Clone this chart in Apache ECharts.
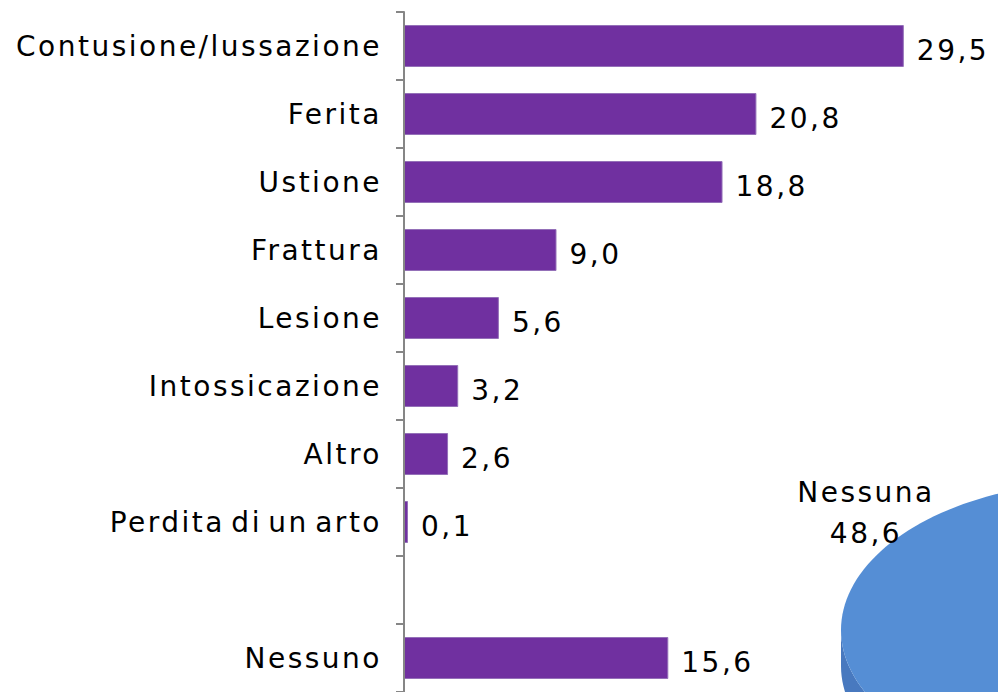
<!DOCTYPE html>
<html>
<head>
<meta charset="utf-8">
<script src="https://cdn.jsdelivr.net/npm/echarts@6/dist/echarts.min.js"></script>
<style>
  html, body { margin: 0; padding: 0; background: #fff; }
  #main { width: 998px; height: 692px; }
  /* spaziatura larga come nell'originale */
  #main svg text { letter-spacing: 2.5px; word-spacing: -5px; }
</style>
</head>
<body>
<div id="main"></div>
<script>
// dati barre (dall'alto verso il basso)
var categorie = ['Contusione/lussazione', 'Ferita', 'Ustione', 'Frattura', 'Lesione',
                 'Intossicazione', 'Altro', 'Perdita di un arto', '', 'Nessuno'];
var valori = [29.5, 20.8, 18.8, 9.0, 5.6, 3.2, 2.6, 0.1, null, 15.6];

// dati torta (solo la fetta visibile)
var torta_nomi = ['Nessuna'];
var torta_valori = [48.6];
var torta_totale = 100;

var font = '28px "DejaVu Sans"';
var fmt = function (v) { return v.toFixed(1).replace('.', ','); };

var myChart = echarts.init(document.getElementById('main'), null, {renderer: 'svg'});

// torta 3D schiacciata, in gran parte fuori dall'area
var cx = 1104, cy = 630, ra = 263, rb = 149, depth = 36;
function punto(deg, dy) {
    var t = deg * Math.PI / 180;
    return [cx + ra * Math.cos(t), cy - rb * Math.sin(t) + (dy || 0)];
}
function arco(a1, a2, dy) {
    var pts = [];
    var n = Math.max(2, Math.ceil(Math.abs(a2 - a1) / 2));
    for (var i = 0; i <= n; i++) {
        pts.push(punto(a1 + (a2 - a1) * i / n, dy));
    }
    return pts;
}
var startAngle = 180 - torta_valori[0] / torta_totale * 360 / 2;

function renderTorta(params, api) {
    var i = params.dataIndex;
    var prima = 0;
    for (var k = 0; k < i; k++) prima += torta_valori[k];
    var a1 = startAngle + prima / torta_totale * 360;
    var a2 = a1 + api.value(0) / torta_totale * 360;
    var children = [];
    // parete laterale (solo metà inferiore)
    var w1 = Math.max(a1, 180), w2 = Math.min(a2, 360);
    if (w2 > w1) {
        var sopra = arco(w1, w2, 0);
        var sotto = arco(w2, w1, depth);
        children.push({type: 'polygon', shape: {points: sopra.concat(sotto)},
            style: {fill: '#4879bf'}});
    }
    children.push({type: 'polygon', shape: {points: [[cx, cy]].concat(arco(a1, a2, 0))},
        style: {fill: '#558ed5'}});
    children.push({type: 'text', x: 866, y: 472,
        style: {text: torta_nomi[i] + '\n' + fmt(api.value(0)), font: font, fill: '#000',
                 align: 'center', verticalAlign: 'top', lineHeight: 41}});
    return {type: 'group', children: children};
}

myChart.setOption({
    animation: false,
    grid: {left: 404, right: 1, top: 12, bottom: 0},
    xAxis: {type: 'value', min: 0, max: 35, show: false},
    yAxis: {
        type: 'category',
        inverse: true,
        data: categorie,
        z: 5,
        axisLine: {show: true, lineStyle: {color: '#868686', width: 2}},
        axisTick: {show: true, length: 8, lineStyle: {color: '#868686', width: 2}},
        axisLabel: {margin: 22, color: '#000', fontSize: 28, fontFamily: 'DejaVu Sans'}
    },
    series: [{
        type: 'bar',
        data: valori,
        barWidth: 42,
        barMinHeight: 4,
        itemStyle: {color: '#7030a0', borderColor: '#9470b8', borderWidth: 1},
        label: {
            show: true,
            position: 'right',
            distance: 13,
            offset: [0, 4],
            color: '#000',
            fontSize: 28,
            fontFamily: 'DejaVu Sans',
            formatter: function (p) { return fmt(p.value); }
        }
    }, {
        type: 'custom',
        coordinateSystem: 'none',
        data: torta_valori.map(function (v) { return [v]; }),
        renderItem: renderTorta,
        silent: true
    }]
});
</script>
</body>
</html>
